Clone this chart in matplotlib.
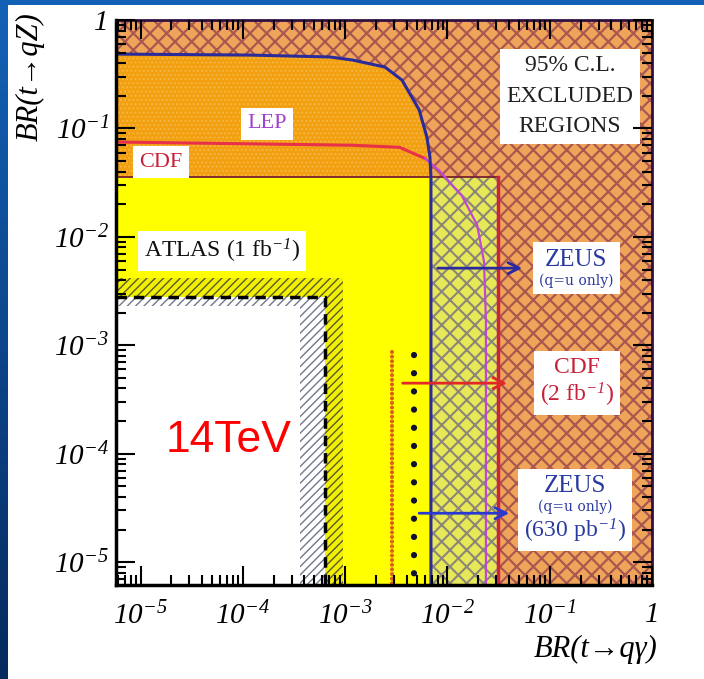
import numpy as np
import matplotlib.pyplot as plt
from matplotlib.patches import Rectangle
from matplotlib.colors import LinearSegmentedColormap
from matplotlib.ticker import LogLocator, FuncFormatter, NullFormatter
from matplotlib.offsetbox import TextArea, VPacker, AnnotationBbox

plt.rcParams['font.family'] = ['Liberation Serif', 'DejaVu Serif']
plt.rcParams['font.style'] = 'italic'
plt.rcParams['mathtext.fontset'] = 'custom'
plt.rcParams['mathtext.rm'] = 'Liberation Serif'
plt.rcParams['mathtext.it'] = 'Liberation Serif:italic'

# axis ranges
x_lim = (10**-5.24, 1.0)
y_lim = (10**-5.21, 1.0)

# LEP contour (blue)
lep_x = [5.75e-6, 1.17e-4, 7.1e-4, 1.17e-3, 2.45e-3, 3.6e-3, 5.3e-3, 6.3e-3, 6.75e-3, 6.9e-3, 6.9e-3]
lep_y = [0.485, 0.475, 0.456, 0.428, 0.368, 0.279, 0.148, 0.083, 0.0545, 0.0356, 6.0e-6]

# CDF contour (red, flat part)
cdf_x = [5.75e-6, 1.17e-3, 3.4e-3, 6.0e-3]
cdf_y = [0.075, 0.070, 0.067, 0.053]

# ZEUS contour (magenta)
zeus_x = [6.0e-3, 8.3e-3, 0.0139, 0.0195, 0.0228, 0.0238, 0.0238]
zeus_y = [0.053, 0.041, 0.0238, 0.0129, 5.9e-3, 1.7e-3, 6.0e-6]

# CDF 2 fb-1 box (corner)
cdf2_x = 0.0312
cdf2_y = 0.0356

# ATLAS 1 fb-1: hatched band, dashed line, inner white region (corners)
atlas_band = (9.5e-4, 4.17e-3)
atlas_dash = (6.35e-4, 2.78e-3)
atlas_inner = (3.6e-4, 2.3e-3)

# dotted sensitivity lines (x, top)
red_dots = (2.87e-3, 8.65e-4)
black_dots = (4.71e-3, 8.1e-4)

# arrows
arrow_y = [5.15e-3, 4.48e-4, 2.83e-5]
arrow_x0 = [7.55e-3, 3.43e-3, 4.97e-3]
arrow_x1 = [0.0573, 0.0408, 0.0428]
arrow_col = ['#2a2aa0', '#e02828', '#2838d0']

fig = plt.figure(figsize=(7.04, 6.79), dpi=100)

# slide background
bg = fig.add_axes([0, 0, 1, 1])
bg.axis('off')
grad = np.linspace(0, 1, 256)[:, None]
bg.imshow(grad, aspect='auto', extent=[0, 1, 0, 1],
          cmap=LinearSegmentedColormap.from_list('slide', ['#1462b8', '#052a5e']))
bg.add_patch(Rectangle((8 / 704, 0), 1, 1 - 5 / 679, facecolor='white',
                       edgecolor='none', transform=bg.transAxes))
bg.set_xlim(0, 1)
bg.set_ylim(0, 1)

ax = fig.add_axes([116 / 704, 1 - 585 / 679, 536 / 704, 565 / 679])
ax.set_xscale('log')
ax.set_yscale('log')
ax.set_xlim(*x_lim)
ax.set_ylim(*y_lim)
ax.set_facecolor('white')

x0, y0 = x_lim[0], y_lim[0]


def region(xs, ys, face, hatch=None, hcolor=None, hlw=1.0, z=1):
    with plt.rc_context({'hatch.linewidth': hlw}):
        p, = ax.fill(xs, ys, facecolor=face, edgecolor=hcolor or face,
                     hatch=hatch, linewidth=0, zorder=z)
    if hasattr(p, 'set_hatch_linewidth'):
        p.set_hatch_linewidth(hlw)
    return p


def rect(x1, y1, **kw):
    return region([x0, x1, x1, x0], [y0, y0, y1, y1], **kw)


# excluded everywhere else (brown crosshatch)
rect(x_lim[1], y_lim[1], face='#f0a45a', hatch='xx', hcolor='#a8584f', hlw=1.6, z=0.5)
# below LEP curve
region(lep_x[:10] + [x0], lep_y[:10] + [cdf2_y], face='#f2a010',
       hatch='....', hcolor='#f6b848', hlw=0.8, z=1)
# between LEP and CDF 2fb-1 box
region([lep_x[-1], cdf2_x, cdf2_x, lep_x[-1]], [y0, y0, cdf2_y, cdf2_y],
       face='#e6e858', hatch='xx', hcolor='#8c8678', hlw=1.5, z=1)
# ATLAS yellow region
rect(lep_x[-1], cdf2_y, face='#ffff00', z=1.2)
rect(atlas_band[0], atlas_band[1], face='#f2f000', hatch='////', hcolor='#5a5a30', hlw=1.0, z=1.4)
rect(atlas_dash[0], atlas_dash[1], face='white', hatch='////', hcolor='#707888', hlw=1.0, z=1.6)
rect(atlas_inner[0], atlas_inner[1], face='white', z=1.8)
ax.plot([x0, atlas_dash[0], atlas_dash[0]], [atlas_dash[1], atlas_dash[1], y0],
        color='black', lw=2.5, ls=(0, (3, 2)), zorder=3)

# contours
ax.plot([x0, cdf2_x, cdf2_x], [cdf2_y, cdf2_y, cdf2_y], color='#7a2030', lw=1.3, zorder=4)
ax.plot([cdf2_x, cdf2_x], [cdf2_y, y0], color='#d02040', lw=2.5, zorder=4)
ax.plot(cdf_x, cdf_y, color='#e8304a', lw=2.2, zorder=5)
ax.plot(zeus_x, zeus_y, color='#c048d8', lw=1.6, zorder=5)
ax.plot(lep_x, lep_y, color='#2b2b9a', lw=2.2, zorder=5.5)

# dotted lines
ax.plot([red_dots[0], red_dots[0]], [red_dots[1], y0], color='#e06018', lw=3.0,
        ls=(0, (0.01, 1.1)), dash_capstyle='round', zorder=5)
ax.plot([black_dots[0], black_dots[0]], [black_dots[1], y0], color='#101030', lw=4.5,
        ls=(0, (0.01, 2.9)), dash_capstyle='round', zorder=5)

for yy, xa, xb, c in zip(arrow_y, arrow_x0, arrow_x1, arrow_col):
    ax.annotate('', xy=(xb, yy), xytext=(xa, yy),
                arrowprops=dict(arrowstyle='->', color=c, lw=2, mutation_scale=20),
                zorder=6)


def label_box(x, y, lines, color, sep=2):
    areas = [TextArea(t, textprops=dict(color=color, fontsize=s, fontstyle='normal',
                                        family=f))
             for t, s, f in lines]
    pack = VPacker(children=areas, align='center', pad=0, sep=sep)
    ab = AnnotationBbox(pack, (x, y), xycoords='data', frameon=True, pad=0.45,
                        bboxprops=dict(facecolor='white', edgecolor='none'), zorder=8)
    ax.add_artist(ab)


serif = ['Liberation Serif', 'DejaVu Serif']
small = ['DejaVu Serif']
label_box(0.158, 0.199, [('95% C.L.', 17, serif), ('EXCLUDED', 17, serif),
                         ('REGIONS', 17, serif)], '#202020', sep=7)
label_box(1.72e-4, 0.110, [('LEP', 16, serif)], '#a040d0')
label_box(1.58e-5, 0.049, [('CDF', 16, serif)], '#c8203a')
label_box(6.25e-5, 7.4e-3, [(r'ATLAS (1 fb$^{-1}$)', 17, serif)], '#101010')
label_box(0.181, 5.15e-3, [('ZEUS', 18, serif), ('(q=u only)', 10, small)], '#2a3aa0')
label_box(0.185, 4.48e-4, [('CDF', 17, serif), (r'(2 fb$^{-1}$)', 17, serif)], '#c8203a')
label_box(0.177, 3.02e-5, [('ZEUS', 18, serif), ('(q=u only)', 10, small),
                           (r'(630 pb$^{-1}$)', 17, serif)], '#2a3aa0')

ax.text(7.2e-5, 1.035e-4, '14TeV', color='#ff0000', fontsize=32, fontstyle='normal',
        family=['Liberation Sans', 'DejaVu Sans'], ha='center',
        va='baseline', zorder=9)


def fmt(v, pos):
    e = int(round(np.log10(v)))
    return '1' if e == 0 else r'$\mathdefault{10^{%d}}$' % e


for axis in (ax.xaxis, ax.yaxis):
    axis.set_major_locator(LogLocator(base=10, numticks=20))
    axis.set_minor_locator(LogLocator(base=10, subs=np.arange(2, 10), numticks=20))
    axis.set_major_formatter(FuncFormatter(fmt))
    axis.set_minor_formatter(NullFormatter())
    axis.set_zorder(20)

ax.tick_params(which='both', direction='in', top=True, right=True, width=1.5,
               labelsize=21)
ax.tick_params(which='major', length=14)
ax.tick_params(which='minor', length=7)
ax.tick_params(axis='x', pad=12)
ax.tick_params(axis='y', pad=5)

for side in ['left', 'bottom']:
    ax.spines[side].set_linewidth(2.5)
for side in ['top', 'right']:
    ax.spines[side].set_linewidth(2)
    ax.spines[side].set_color('#301040')
for sp in ax.spines.values():
    sp.set_zorder(20)

ax.text(0.894, -0.114, 'BR(t\u2192q\u03b3)', transform=ax.transAxes, fontsize=22,
        ha='center', va='center')
ax.text(-0.16, 0.899, 'BR(t\u2192qZ)', transform=ax.transAxes, fontsize=22,
        rotation=90, ha='center', va='center')

fig.savefig('out.png', dpi=100)
